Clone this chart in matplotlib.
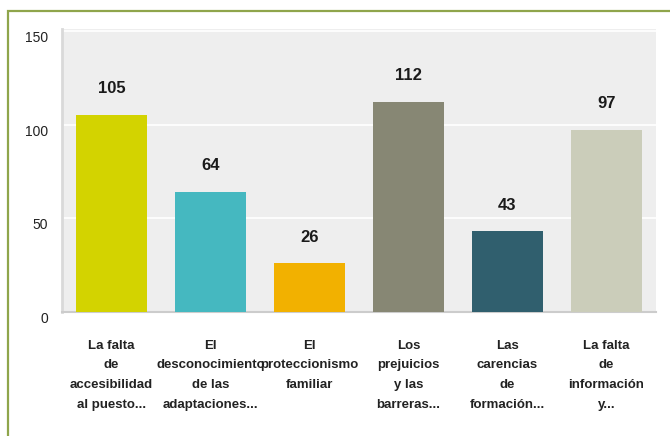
import matplotlib.pyplot as plt
from matplotlib.patches import Rectangle

# Datos
categorias = [
    "La falta\nde\naccesibilidad\nal puesto...",
    "El\ndesconocimiento\nde las\nadaptaciones...",
    "El\nproteccionismo\nfamiliar",
    "Los\nprejuicios\ny las\nbarreras...",
    "Las\ncarencias\nde\nformación...",
    "La falta\nde\ninformación\ny...",
]
valores = [105, 64, 26, 112, 43, 97]
colores = ["#d3d300", "#45b8c0", "#f2b100", "#878774", "#305f6e", "#cbcdba"]
ticks_y = [0, 50, 100, 150]

W, H = 670, 436
fig = plt.figure(figsize=(W / 100, H / 100), dpi=100)
fig.patch.set_facecolor("white")

# Marco verde (cortado a la derecha y abajo)
fig.patches.append(Rectangle((8 / W, -0.05), 1.0, 1 - 11 / H + 0.05,
                             transform=fig.transFigure, fill=False,
                             edgecolor="#8fa54b", linewidth=1.6))

ax = fig.add_axes([62 / W, 1 - 312 / H, (656 - 62) / W, (312 - 29) / H])
ax.set_facecolor("#eeeeee")

x = range(len(valores))
ax.bar(x, valores, width=0.72, color=colores, zorder=3)

for xi, v in zip(x, valores):
    ax.text(xi, v + 14, str(v), ha="center", va="center",
            fontsize=12, fontweight="bold", color="#1a1a1a",
            family="Liberation Sans", zorder=4)

ax.set_xlim(-0.5, len(valores) - 0.5)
ax.set_ylim(0, 151)
ax.set_yticks(ticks_y)
ax.set_yticklabels([str(t) for t in ticks_y], fontsize=10,
                   family="Liberation Sans", color="#222222")
for lab in ax.get_yticklabels():
    lab.set_verticalalignment("top")
ax.tick_params(axis="y", length=0, pad=10)
ax.yaxis.grid(True, color="white", linewidth=1.2, zorder=1)
ax.set_axisbelow(True)

ax.set_xticks(list(x))
ax.set_xticklabels(categorias, fontsize=9.5, fontweight="bold",
                   family="Liberation Sans", color="#222222",
                   linespacing=1.85)
ax.tick_params(axis="x", length=0, pad=20)

for s in ["top", "right"]:
    ax.spines[s].set_visible(False)
ax.spines["left"].set_color("#d9d9d9")
ax.spines["left"].set_linewidth(2)
ax.spines["bottom"].set_color("#cccccc")
ax.spines["bottom"].set_linewidth(1.5)

fig.savefig("out.png", dpi=100)
